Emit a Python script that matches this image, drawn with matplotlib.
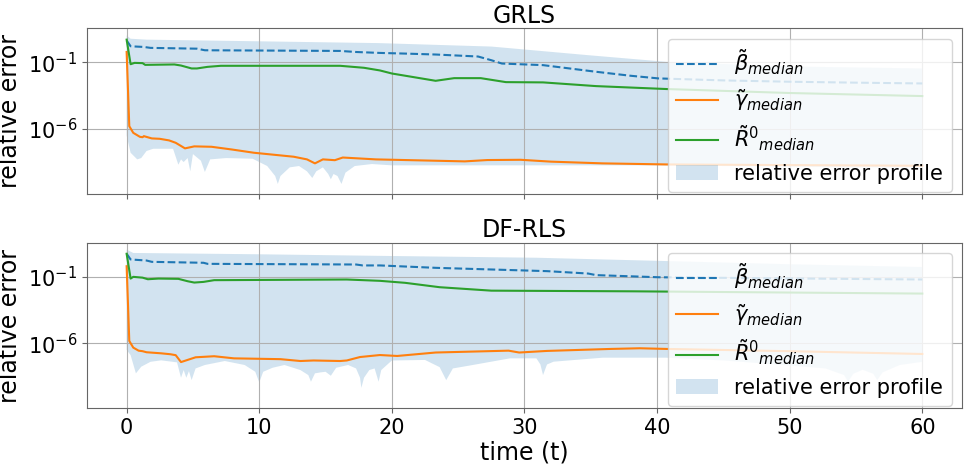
import numpy as np
import matplotlib
matplotlib.use("Agg")
import matplotlib.pyplot as plt

# values are read as log10(relative error)
# ---------------- GRLS ----------------
g_beta_t = [0, 0.3, 1.3, 1.8, 5.3, 5.9, 10, 16.1, 17.3, 19.1, 21, 23.3, 26.5,
            27.5, 28.3, 31.4, 33, 35.4, 38, 40.1, 45, 50, 55, 60]
g_beta = [0.66, 0.22, 0.17, 0.1, 0.04, -0.08, -0.1, -0.13, -0.21, -0.28, -0.33,
          -0.4, -0.55, -0.83, -1.08, -1.2, -1.4, -1.7, -2.0, -2.2, -2.35, -2.45,
          -2.52, -2.58]

g_r0_t = [0, 0.3, 0.6, 1.2, 1.4, 3.6, 4.1, 4.9, 5.3, 6.1, 7.1, 16.1, 17.9, 19.1,
          20, 23.3, 24.7, 26.7, 28.6, 31.4, 35.4, 40.7, 50, 60]
g_r0 = [0.72, -1.13, -1.03, -1.05, -1.18, -1.15, -1.23, -1.45, -1.45, -1.33, -1.25,
        -1.25, -1.4, -1.6, -1.83, -2.38, -2.18, -2.18, -2.48, -2.5, -2.78, -3.0,
        -3.3, -3.53]

g_gamma_t = [0, 0.2, 0.5, 1.0, 1.2, 1.3, 1.9, 2.5, 3.2, 3.7, 4.4, 5.1, 6.4, 7.9,
             9.6, 12.6, 13.6, 14.2, 14.8, 15.7, 16.3, 18.8, 21, 25.5, 27.2, 29.7,
             32, 35.9, 40.7, 50, 60]
g_gamma = [-0.21, -5.8, -6.3, -6.6, -6.63, -6.55, -6.72, -6.75, -6.87, -7.05,
           -7.47, -7.32, -7.35, -7.55, -7.8, -8.1, -8.3, -8.6, -8.3, -8.36, -8.16,
           -8.3, -8.35, -8.45, -8.35, -8.33, -8.47, -8.6, -8.68, -8.73, -8.78]

g_upper_t = [0, 0.3, 1.5, 9, 19, 27.5, 34.8, 40.7, 50, 60]
g_upper = [1.04, 0.79, 0.72, 0.61, 0.46, 0.2, -0.45, -0.95, -1.3, -1.45]

g_lower_t = [0, 0.3, 0.8, 1.1, 1.5, 2.0, 3.5, 3.9, 4.1, 4.3, 4.6, 4.8, 5.0, 5.6,
             5.9, 6.3, 7.5, 9.5, 10.6, 11.2, 11.4, 11.6, 12.3, 13.0, 13.6, 14.0,
             14.3, 14.8, 15.2, 15.4, 15.6, 15.9, 16.2, 16.5, 17.2, 18.5, 20, 30,
             41, 45, 50, 55, 60]
g_lower = [-6.5, -7.8, -8.3, -8.2, -7.67, -7.5, -7.5, -8.7, -8.3, -8.5, -8.2, -9.2,
           -7.9, -8.4, -9.25, -8.3, -8.2, -8.25, -8.8, -9.55, -10.15, -9.55, -8.9,
           -8.8, -9.2, -9.7, -9.2, -8.9, -9.4, -9.8, -9.4, -9.55, -10.15, -9.3,
           -8.8, -8.65, -8.75, -8.75, -8.75, -8.8, -8.85, -8.9, -8.9]

# ---------------- DF-RLS ----------------
d_beta_t = [0, 0.3, 1.5, 1.9, 5.8, 6.1, 17.3, 17.8, 19.1, 23.3, 31.7, 34.8, 35.4,
            40.1, 50, 60]
d_beta = [0.74, 0.31, 0.23, 0.13, 0.06, -0.02, -0.07, -0.14, -0.14, -0.32, -0.57,
          -0.75, -0.87, -1.03, -1.12, -1.2]

d_r0_t = [0, 0.3, 0.5, 1.2, 1.6, 2.4, 3.9, 4.6, 5.1, 5.8, 6.6, 16.6, 19.1, 21,
          23.6, 27.5, 38.2, 60]
d_r0 = [0.74, -1.13, -1.0, -1.06, -1.18, -1.13, -1.15, -1.33, -1.43, -1.38, -1.25,
        -1.2, -1.3, -1.45, -1.78, -2.04, -2.09, -2.26]

d_gamma_t = [0, 0.2, 0.5, 0.9, 1.2, 1.5, 2.6, 3.3, 3.7, 4.1, 5.2, 6.6, 8.1, 11.6,
             13.1, 14.1, 16.1, 16.6, 17.6, 19.1, 20.4, 23.3, 28.8, 29.6, 31.7,
             36.5, 38.7, 40.7, 50, 60]
d_gamma = [-0.2, -5.83, -6.33, -6.56, -6.6, -6.68, -6.76, -6.83, -6.9, -7.42,
           -7.06, -6.98, -7.14, -7.2, -7.34, -7.3, -7.34, -7.3, -7.04, -6.89,
           -6.96, -6.7, -6.56, -6.7, -6.58, -6.43, -6.38, -6.43, -6.6, -6.81]

d_upper_t = [0, 0.5, 10, 20, 30.9, 40.7, 50, 60]
d_upper = [1.05, 0.8, 0.7, 0.57, 0.44, 0.19, -0.05, -0.26]

d_lower_t = [0, 0.3, 0.7, 1.1, 1.8, 2.6, 3.8, 4.1, 4.3, 4.5, 4.7, 4.9, 5.2, 5.9,
             7.4, 8.9, 9.7, 10.0, 10.3, 11.0, 11.9, 13.1, 13.7, 13.9, 14.2, 14.6,
             15.0, 15.4, 15.8, 16.7, 17.3, 17.6, 17.7, 17.9, 18.3, 18.7, 19.0,
             19.2, 20, 22.5, 23.6, 24.1, 24.6, 26.1, 28.9, 30.9, 31.2, 31.4, 31.7,
             32.2, 35.9, 40.7, 45, 49, 52.7, 54.1, 54.4, 54.8, 55.5, 56.3, 56.6,
             57.0, 58.3, 60]
d_lower = [-6.5, -6.9, -8.27, -7.77, -7.4, -7.29, -7.44, -8.6, -8.02, -8.6, -8.1,
           -8.78, -7.9, -7.64, -7.34, -7.64, -8.15, -8.95, -8.15, -7.85, -7.64,
           -8.02, -8.4, -8.9, -8.27, -8.2, -8.15, -8.45, -7.85, -7.64, -7.9, -8.6,
           -9.36, -8.6, -8.02, -7.9, -8.9, -8.02, -7.3, -7.26, -7.8, -8.78, -7.9,
           -7.64, -7.14, -7.14, -7.6, -8.4, -7.6, -7.39, -7.09, -7.09, -7.3, -7.6,
           -7.9, -8.4, -8.9, -8.3, -8.0, -8.3, -8.78, -8.2, -7.64, -7.4]

titles = ["GRLS", "DF-RLS"]
labels = [r"$\tilde{\beta}_{median}$", r"$\tilde{\gamma}_{median}$",
          r"$\tilde{R}^0{}_{median}$", "relative error profile"]

panels = [
    (g_beta_t, g_beta, g_gamma_t, g_gamma, g_r0_t, g_r0,
     g_upper_t, g_upper, g_lower_t, g_lower),
    (d_beta_t, d_beta, d_gamma_t, d_gamma, d_r0_t, d_r0,
     d_upper_t, d_upper, d_lower_t, d_lower),
]

plt.rcParams["font.size"] = 15
plt.rcParams["axes.edgecolor"] = "0.4"
plt.rcParams["xtick.color"] = "0.4"
plt.rcParams["ytick.color"] = "0.4"
plt.rcParams["xtick.labelcolor"] = "black"
plt.rcParams["ytick.labelcolor"] = "black"

fig, axes = plt.subplots(2, 1, figsize=(9.65, 4.65), dpi=100, sharex=True)
fig.subplots_adjust(left=0.09, right=0.997, top=0.939, bottom=0.122, hspace=0.295)

for ax, title, p in zip(axes, titles, panels):
    bt, b, gt, g, rt, r, ut, u, lt, lo = p
    ax.fill(np.concatenate([ut, lt[::-1]]),
            10.0 ** np.concatenate([u, lo[::-1]]),
            color="C0", alpha=0.2, linewidth=0, label=labels[3])
    ax.plot(bt, 10.0 ** np.array(b), "--", color="C0", label=labels[0])
    ax.plot(gt, 10.0 ** np.array(g), color="C1", label=labels[1])
    ax.plot(rt, 10.0 ** np.array(r), color="C2", label=labels[2])
    ax.set_yscale("log")
    ax.set_ylim(10 ** -10.9, 10 ** 1.57)
    ax.set_yticks([1e-6, 1e-1])
    ax.yaxis.set_minor_locator(matplotlib.ticker.NullLocator())
    ax.set_xlim(-3, 63)
    ax.grid(True)
    ax.set_title(title, fontsize=17, pad=4)
    ax.set_ylabel("relative error", fontsize=17, labelpad=4)
    h, l = ax.get_legend_handles_labels()
    ax.legend(h[1:] + h[:1], l[1:] + l[:1], loc="upper right")

axes[1].set_xlabel("time (t)", fontsize=17, labelpad=2)

fig.savefig("out.png")
